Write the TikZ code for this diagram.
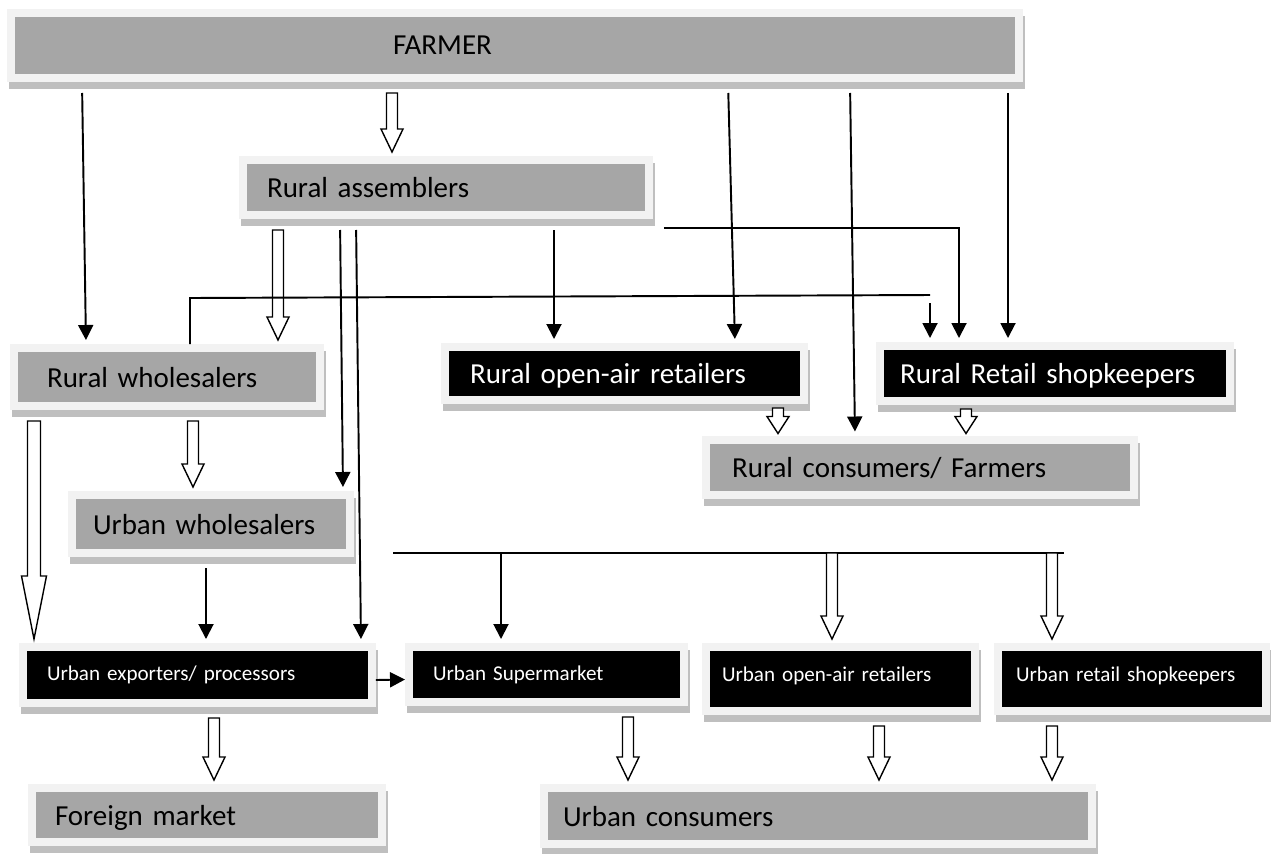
\documentclass[tikz,border=0pt]{standalone}
\usepackage{fontspec}
\setmainfont{Carlito}
\usepackage{xcolor}
\usetikzlibrary{calc, arrows.meta}

\definecolor{boxgray}{HTML}{A6A6A6}
\definecolor{framegray}{HTML}{F2F2F2}
\definecolor{shadowgray}{HTML}{BFBFBF}

\tikzset{
	box/.style={rectangle, draw=framegray, line width=0.16cm, inner ysep=0pt, align=left,
		preaction={draw=shadowgray, fill=shadowgray, line width=0.16cm,
			transform canvas={shift={(0.04cm,-0.14cm)}}}},
	graybox/.style={box, fill=boxgray, text=black, text depth=0pt, font=\fontsize{16.5}{19}\selectfont},
	blackbox/.style={box, fill=black, text=white, text depth=0pt, font=\fontsize{16.5}{19}\selectfont},
	smallbox/.style={box, fill=black, text=white, font=\fontsize{12}{14}\selectfont},
	wire/.style={line width=1.1pt},
	arr/.style={wire, shorten <=0.22cm, shorten >=0.08cm, -{Triangle[length=0.3cm, width=0.3cm]}},
	hollowto/.style n args={5}{draw, fill=white, line width=0.8pt,
		to path={let \p1=(\tikztostart), \p2=(\tikztotarget) in
			(\x1-#1,\y1-#4) -- (\x1+#1,\y1-#4) -- (\x1+#1,\y2+#5+#3) -- (\x1+#2,\y2+#5+#3)
			-- (\x1,\y2+#5) -- (\x1-#2,\y2+#5+#3) -- (\x1-#1,\y2+#5+#3) -- cycle}},
	hollow/.style={hollowto={0.11cm}{0.22cm}{0.46cm}{0.22cm}{0.08cm}},
	hollowbus/.style={hollowto={0.11cm}{0.22cm}{0.46cm}{0cm}{0.08cm}},
	shorthollow/.style={hollowto={0.11cm}{0.22cm}{0.34cm}{0.08cm}{0.04cm}},
	bighollow/.style={hollowto={0.13cm}{0.25cm}{1.26cm}{0.22cm}{0.08cm}}
}

\begin{document}
\begin{tikzpicture}[x=0.02cm, y=-0.02cm]
	\useasboundingbox (0,0) rectangle (1271,853);

	%boxes
	\node[graybox, text width=4.88cm, inner xsep=7.64cm, minimum height=1.3cm] (farmer) at (515,45.5) {FARMER};
	\node[graybox, text width=7.16cm, inner xsep=0.48cm, minimum height=1.1cm] (assem) at (446,187.5) {Rural assemblers};
	\node[graybox, text width=4.8cm, inner xsep=0.66cm, minimum height=1.16cm] (rwhole) at (167,377) {Rural wholesalers};
	\node[blackbox, text width=6.18cm, inner xsep=0.5cm, minimum height=1.06cm] (roar) at (624.5,373.5) {Rural open-air retailers};
	\node[blackbox, text width=6.2cm, inner xsep=0.4cm, minimum height=1.1cm] (rrs) at (1055,373.5) {Rural Retail shopkeepers};
	\node[graybox, text width=7.52cm, inner xsep=0.52cm, minimum height=1.1cm] (rcons) at (920,467) {Rural consumers/ Farmers};
	\node[graybox, text width=4.72cm, inner xsep=0.42cm, minimum height=1.16cm] (uwhole) at (211,524) {Urban wholesalers};
	\node[smallbox, text width=6.02cm, inner xsep=0.48cm, minimum height=1.12cm] (uexp) at (197.5,675) {Urban exporters/ processors};
	\node[smallbox, text width=4.54cm, inner xsep=0.48cm, minimum height=1.1cm] (usup) at (546.5,674.5) {Urban Supermarket};
	\node[smallbox, text width=4.74cm, inner xsep=0.32cm, minimum height=1.28cm, text depth=0.2cm] (uoar) at (840.5,679) {Urban open-air retailers};
	\node[smallbox, text width=4.64cm, inner xsep=0.36cm, minimum height=1.28cm, text depth=0.2cm] (urs) at (1132,679) {Urban retail shopkeepers};
	\node[graybox, text width=6.08cm, inner xsep=0.46cm, minimum height=1.08cm] (foreign) at (207,815) {Foreign market};
	\node[graybox, text width=10.2cm, inner xsep=0.38cm, minimum height=1.12cm] (ucons) at (818,816) {Urban consumers};

	%free ends
	\coordinate (wbend) at (190,298);
	\coordinate (wend) at (930,295);
	\coordinate (wdrop) at (930,303);
	\coordinate (busL) at (393,553);
	\coordinate (busR) at (1064,553);

	%from farmer
	\draw[arr] (82,0 |- farmer.south) -- (86,0 |- rwhole.north);
	\draw[hollow] (392,0 |- farmer.south) to (392,0 |- assem.north);
	\draw[arr] (728,0 |- farmer.south) -- (735,0 |- roar.north);
	\draw[arr] (850,0 |- farmer.south) -- (855,0 |- rcons.north);
	\draw[arr] (1008,0 |- farmer.south) -- (1008,0 |- rrs.north);

	%from rural assemblers
	\draw[hollow] (278,0 |- assem.south) to (278,0 |- rwhole.north);
	\draw[arr] (340,0 |- assem.south) -- (343,0 |- uwhole.north);
	\draw[arr] (356,0 |- assem.south) -- (361,0 |- uexp.north);
	\draw[arr] (554,0 |- assem.south) -- (554,0 |- roar.north);
	\draw[arr, shorten <=0pt] ([xshift=0.22cm, yshift=-0.18cm]assem.south east) -| (959,0 |- rrs.north);

	%from rural wholesalers
	\draw[wire] (190,0 |- rwhole.north) -- (wbend) -- (wend);
	\draw[arr, shorten <=0pt] (wdrop) -- (wdrop |- rrs.north);
	\draw[hollow] (193,0 |- rwhole.south) to (193,0 |- uwhole.north);
	\draw[bighollow] (34,0 |- rwhole.south) to (34,0 |- uexp.north);

	%rural consumers
	\draw[shorthollow] (778,0 |- roar.south) to (778,0 |- rcons.north);
	\draw[shorthollow] (966,0 |- rrs.south) to (966,0 |- rcons.north);

	%urban side
	\draw[arr] (206,0 |- uwhole.south) -- (206,0 |- uexp.north);
	\draw[hollow] (214,0 |- uexp.south) to (214,0 |- foreign.north);
	\draw[arr, shorten <=0pt, shorten >=0pt] ([yshift=-0.1cm]uexp.east) -- ([yshift=-0.1cm]usup.west);
	\draw[wire] (busL) -- (busR);
	\draw[arr, shorten <=0pt] (501,0 |- busL) -- (501,0 |- usup.north);
	\draw[hollowbus] (832,0 |- busL) to (832,0 |- uoar.north);
	\draw[hollowbus] (1052,0 |- busL) to (1052,0 |- urs.north);

	%urban consumers
	\draw[hollow] (628,0 |- usup.south) to (628,0 |- ucons.north);
	\draw[hollow] (879,0 |- uoar.south) to (879,0 |- ucons.north);
	\draw[hollow] (1052,0 |- urs.south) to (1052,0 |- ucons.north);
\end{tikzpicture}
\end{document}
